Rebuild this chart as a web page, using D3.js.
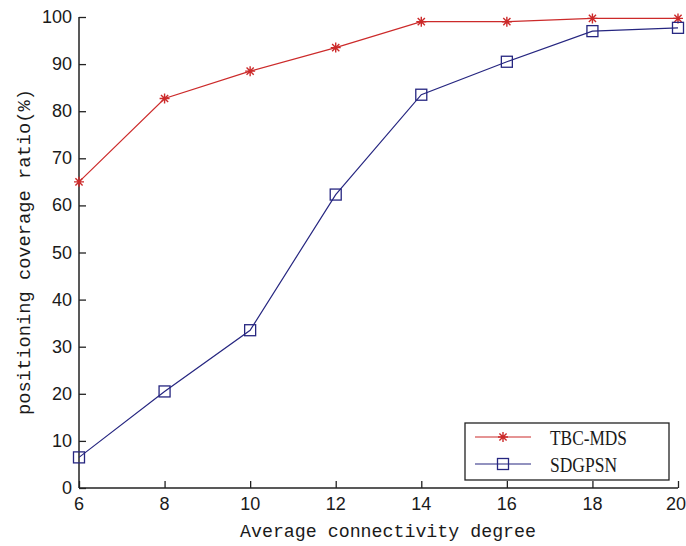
<!DOCTYPE html>
<html>
<head>
<meta charset="utf-8">
<script src="https://cdn.jsdelivr.net/npm/d3@7"></script>
<style>
  body { margin: 0; background: #fff; }
</style>
</head>
<body>
<div id="chart"></div>
<script>
var degrees = [6, 8, 10, 12, 14, 16, 18, 20];
var tbcMds = [65, 82.7, 88.5, 93.5, 99, 99, 99.7, 99.7];
var sdgpsn = [6.5, 20.5, 33.5, 62.3, 83.5, 90.5, 97, 97.7];
var xTicks = [6, 8, 10, 12, 14, 16, 18, 20];
var yTicks = [0, 10, 20, 30, 40, 50, 60, 70, 80, 90, 100];
var seriesNames = ["TBC-MDS", "SDGPSN"];

var width = 686, height = 546;
var svg = d3.select("#chart").append("svg")
    .attr("width", width)
    .attr("height", height);

var x = d3.scaleLinear().domain([6, 20]).range([79, 678]);
var y = d3.scaleLinear().domain([0, 100]).range([488, 17]);

var axisColor = "#222";
var tickFont = "'Liberation Sans Narrow', 'Arial Narrow', 'Liberation Sans', sans-serif";
var red = "#cc2a2a", blue = "#262680";

// axes (MATLAB box off, ticks pointing inward)
var xAxis = svg.append("g")
    .attr("transform", "translate(0," + y(0) + ")")
    .call(d3.axisTop(x).tickValues(xTicks).tickSize(7).tickFormat(""));
xAxis.selectAll("line").attr("stroke", axisColor).attr("stroke-width", 1.3);
xAxis.select(".domain").attr("stroke", axisColor).attr("stroke-width", 1.5).attr("d", "M" + x(6) + ",0H" + x(20));

var yAxis = svg.append("g")
    .attr("transform", "translate(" + x(6) + ",0)")
    .call(d3.axisRight(y).tickValues(yTicks).tickSize(7).tickFormat(""));
yAxis.selectAll("line").attr("stroke", axisColor).attr("stroke-width", 1.3);
yAxis.select(".domain").attr("stroke", axisColor).attr("stroke-width", 1.5).attr("d", "M0," + y(0) + "V" + y(100));

// tick labels (last one kept inside the page edge)
svg.append("g").selectAll("text")
    .data(xTicks)
    .enter().append("text")
    .attr("x", function(d, i) { return i === xTicks.length - 1 ? 686 : x(d); })
    .attr("y", 510)
    .attr("text-anchor", function(d, i) { return i === xTicks.length - 1 ? "end" : "middle"; })
    .attr("font-family", tickFont)
    .attr("font-size", 18)
    .attr("fill", "#1a1a1a")
    .text(function(d) { return d; });

svg.append("g").selectAll("text")
    .data(yTicks)
    .enter().append("text")
    .attr("x", 72)
    .attr("y", function(d) { return y(d) + 6; })
    .attr("text-anchor", "end")
    .attr("font-family", tickFont)
    .attr("font-size", 18)
    .attr("fill", "#1a1a1a")
    .text(function(d) { return d; });

// axis titles
svg.append("text")
    .attr("x", 240)
    .attr("y", 537)
    .attr("font-family", "'Liberation Mono', 'DejaVu Sans Mono', monospace")
    .attr("font-size", 18)
    .attr("textLength", 296)
    .attr("lengthAdjust", "spacingAndGlyphs")
    .attr("fill", "#1a1a1a")
    .text("Average connectivity degree");

svg.append("text")
    .attr("transform", "translate(30,252) rotate(-90)")
    .attr("text-anchor", "middle")
    .attr("font-family", "'Liberation Mono', 'DejaVu Sans Mono', monospace")
    .attr("font-size", 18)
    .attr("textLength", 326)
    .attr("lengthAdjust", "spacingAndGlyphs")
    .attr("fill", "#1a1a1a")
    .text("positioning coverage ratio(%)");

// series
var line = d3.line()
    .x(function(d, i) { return x(degrees[i]); })
    .y(function(d) { return y(d); });

function starPath(r) {
    var d = r * 0.72;
    return "M" + (-r) + ",0H" + r + "M0," + (-r) + "V" + r +
        "M" + (-d) + "," + (-d) + "L" + d + "," + d +
        "M" + (-d) + "," + d + "L" + d + "," + (-d);
}

svg.append("path")
    .datum(tbcMds)
    .attr("fill", "none")
    .attr("stroke", red)
    .attr("stroke-width", 1.2)
    .attr("d", line);

svg.append("path")
    .datum(sdgpsn)
    .attr("fill", "none")
    .attr("stroke", blue)
    .attr("stroke-width", 1.2)
    .attr("d", line);

svg.append("g").selectAll("path")
    .data(tbcMds)
    .enter().append("path")
    .attr("transform", function(d, i) { return "translate(" + x(degrees[i]) + "," + y(d) + ")"; })
    .attr("d", starPath(5))
    .attr("stroke", red)
    .attr("stroke-width", 1.4)
    .attr("fill", "none");

svg.append("g").selectAll("rect")
    .data(sdgpsn)
    .enter().append("rect")
    .attr("x", function(d, i) { return x(degrees[i]) - 5.5; })
    .attr("y", function(d) { return y(d) - 5.5; })
    .attr("width", 11)
    .attr("height", 11)
    .attr("fill", "none")
    .attr("stroke", blue)
    .attr("stroke-width", 1.3);

// legend
var legend = svg.append("g");
legend.append("rect")
    .attr("x", 465)
    .attr("y", 423)
    .attr("width", 204)
    .attr("height", 57)
    .attr("fill", "#fff")
    .attr("stroke", axisColor)
    .attr("stroke-width", 1.3);

var legendRows = [
    { name: seriesNames[0], color: red, y: 437, marker: "star", len: 77 },
    { name: seriesNames[1], color: blue, y: 464, marker: "square", len: 67 }
];
legendRows.forEach(function(r) {
    legend.append("line")
        .attr("x1", 475).attr("x2", 531)
        .attr("y1", r.y).attr("y2", r.y)
        .attr("stroke", r.color)
        .attr("stroke-width", 1.2);
    if (r.marker === "star") {
        legend.append("path")
            .attr("transform", "translate(503," + r.y + ")")
            .attr("d", starPath(5))
            .attr("stroke", r.color)
            .attr("stroke-width", 1.4)
            .attr("fill", "none");
    } else {
        legend.append("rect")
            .attr("x", 497.5).attr("y", r.y - 5.5)
            .attr("width", 11).attr("height", 11)
            .attr("fill", "none")
            .attr("stroke", r.color)
            .attr("stroke-width", 1.3);
    }
    legend.append("text")
        .attr("x", 550)
        .attr("y", r.y + 8)
        .attr("font-family", "'Liberation Serif', 'Times New Roman', serif")
        .attr("font-size", 20)
        .attr("textLength", r.len)
        .attr("lengthAdjust", "spacingAndGlyphs")
        .attr("fill", "#1a1a1a")
        .text(r.name);
});
</script>
</body>
</html>
